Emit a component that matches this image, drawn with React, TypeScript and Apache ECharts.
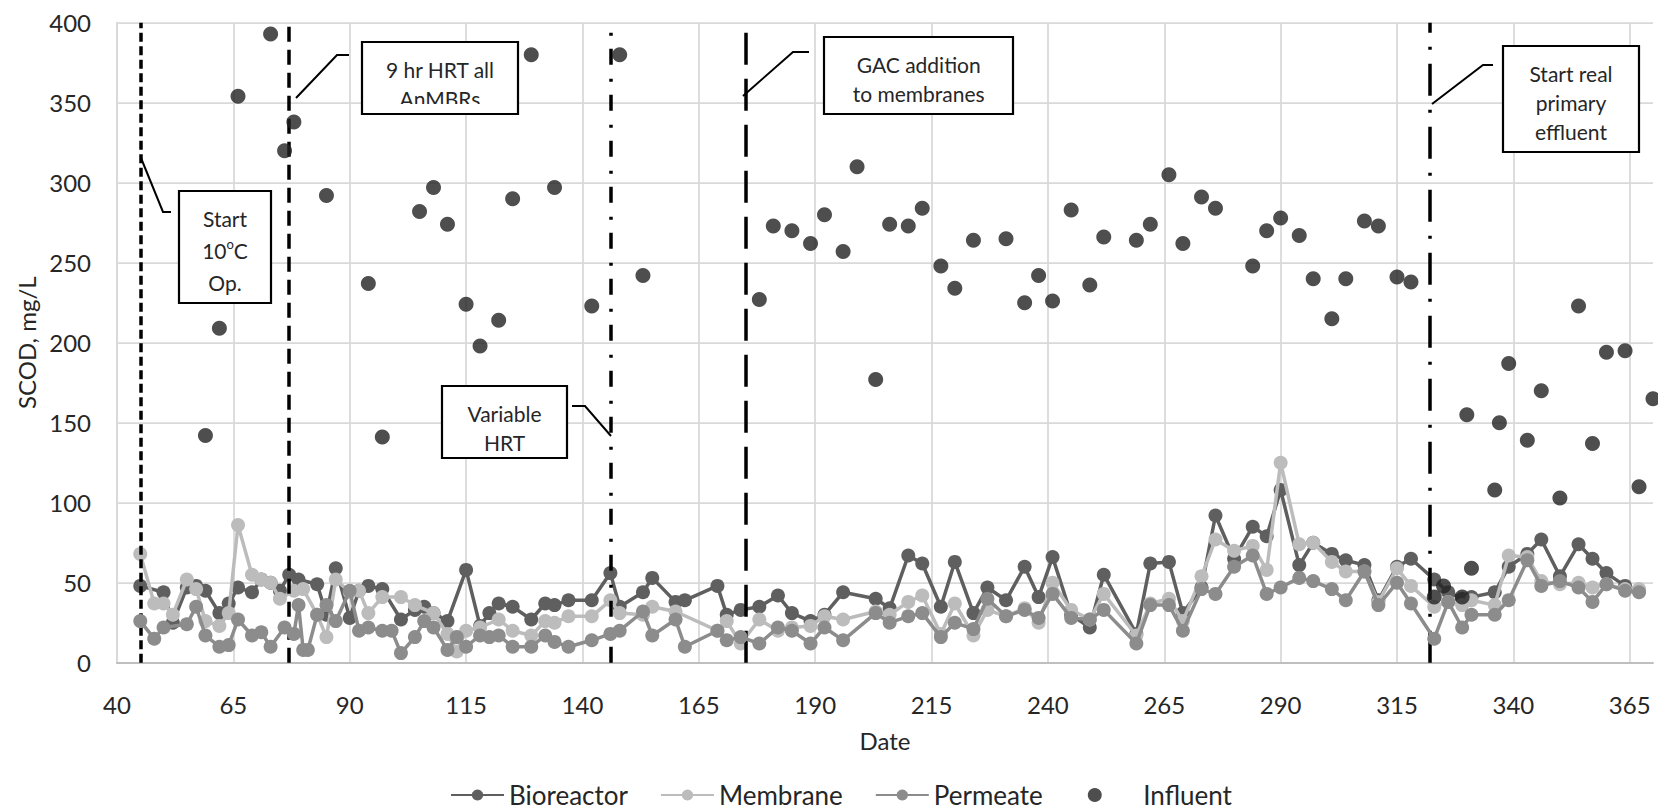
import React, { useEffect, useRef } from "react";
import * as echarts from "echarts";

// ---------- data ----------
const xTickValues = [40, 65, 90, 115, 140, 165, 190, 215, 240, 265, 290, 315, 340, 365];

const bioreactorDays = [45, 50, 52, 55, 57, 59, 62, 64, 66, 69, 71, 73, 75, 77, 79, 83, 85, 87, 90, 92, 94, 97, 101, 104, 106, 108, 111, 115, 118, 120, 122, 125, 129, 132, 134, 137, 142, 146, 148, 153, 155, 160, 162, 169, 171, 174, 178, 182, 185, 189, 192, 196, 203, 206, 210, 213, 217, 220, 224, 227, 231, 235, 238, 241, 245, 249, 252, 259, 262, 266, 269, 273, 276, 280, 284, 287, 290, 294, 297, 301, 304, 308, 311, 315, 318, 323, 326, 329, 331, 336, 339, 343, 346, 350, 354, 357, 360, 364, 367];
const bioreactorValues = [48, 44, 25, 47, 48, 45, 31, 37, 47, 44, 52, 50, 45, 55, 52, 49, 30, 59, 28, 45, 48, 46, 27, 33, 35, 31, 26, 58, 23, 31, 37, 35, 27, 37, 36, 39, 39, 56, 35, 44, 53, 38, 39, 48, 30, 33, 35, 42, 31, 26, 30, 44, 40, 34, 67, 62, 35, 63, 31, 47, 39, 60, 41, 66, 30, 22, 55, 18, 62, 63, 31, 47, 92, 65, 85, 79, 108, 61, 75, 68, 64, 61, 39, 60, 65, 52, 44, 40, 41, 44, 60, 68, 77, 54, 74, 65, 56, 48, 45];

const membraneDays = [45, 48, 50, 52, 55, 57, 59, 62, 64, 66, 69, 71, 73, 75, 78, 80, 83, 85, 87, 90, 92, 94, 97, 101, 104, 108, 111, 113, 115, 118, 122, 125, 129, 132, 134, 137, 142, 146, 148, 153, 155, 160, 169, 171, 174, 178, 182, 185, 189, 192, 196, 203, 206, 210, 213, 217, 220, 224, 227, 231, 235, 238, 241, 245, 249, 252, 259, 262, 266, 269, 273, 276, 280, 284, 287, 290, 294, 297, 301, 304, 308, 311, 315, 318, 323, 326, 329, 331, 336, 339, 343, 346, 350, 354, 357, 360, 364, 367];
const membraneValues = [68, 37, 37, 30, 52, 46, 26, 23, 31, 86, 55, 52, 50, 40, 45, 46, 30, 16, 52, 44, 45, 31, 41, 41, 36, 31, 18, 7, 20, 22, 27, 20, 17, 26, 25, 29, 29, 39, 31, 30, 35, 32, 20, 26, 12, 27, 20, 22, 23, 29, 27, 32, 30, 38, 42, 18, 37, 17, 33, 29, 34, 25, 50, 33, 27, 43, 17, 37, 40, 26, 54, 77, 70, 73, 58, 125, 74, 75, 63, 57, 57, 38, 59, 48, 35, 38, 36, 39, 36, 67, 66, 51, 49, 50, 47, 49, 46, 46];

const permeateDays = [45, 48, 50, 55, 57, 59, 62, 64, 66, 69, 71, 73, 76, 78, 79, 80, 81, 83, 85, 87, 90, 92, 94, 97, 99, 101, 104, 106, 108, 111, 113, 115, 118, 120, 122, 125, 129, 132, 134, 137, 142, 146, 148, 153, 155, 160, 162, 169, 171, 174, 178, 182, 185, 189, 192, 196, 203, 206, 210, 213, 217, 220, 224, 227, 231, 235, 238, 241, 245, 249, 252, 259, 262, 266, 269, 273, 276, 280, 284, 287, 290, 294, 297, 301, 304, 308, 311, 315, 318, 323, 326, 329, 331, 336, 339, 343, 346, 350, 354, 357, 360, 364, 367];
const permeateValues = [26, 15, 22, 24, 35, 17, 10, 11, 27, 17, 19, 10, 22, 18, 36, 8, 8, 30, 36, 26, 45, 20, 22, 20, 20, 6, 16, 26, 22, 8, 16, 10, 17, 16, 17, 10, 10, 17, 13, 10, 14, 18, 20, 32, 17, 27, 10, 20, 14, 16, 12, 22, 20, 12, 22, 14, 31, 25, 29, 31, 16, 25, 21, 40, 29, 33, 28, 43, 28, 27, 33, 12, 36, 36, 20, 46, 43, 60, 67, 43, 47, 53, 51, 46, 39, 57, 36, 50, 37, 15, 38, 22, 30, 30, 39, 64, 48, 51, 47, 38, 49, 45, 44];

const influentDays = [59, 62, 66, 73, 76, 78, 85, 94, 97, 105, 108, 111, 115, 118, 122, 125, 129, 134, 142, 148, 153, 178, 181, 185, 189, 192, 196, 199, 203, 206, 210, 213, 217, 220, 224, 231, 235, 238, 241, 245, 249, 252, 259, 262, 266, 269, 273, 276, 284, 287, 290, 294, 297, 301, 304, 308, 311, 315, 318, 323, 325, 329, 331, 330, 336, 337, 339, 343, 346, 350, 354, 357, 360, 364, 367, 370];
const influentValues = [142, 209, 354, 393, 320, 338, 292, 237, 141, 282, 297, 274, 224, 198, 214, 290, 380, 297, 223, 380, 242, 227, 273, 270, 262, 280, 257, 310, 177, 274, 273, 284, 248, 234, 264, 265, 225, 242, 226, 283, 236, 266, 264, 274, 305, 262, 291, 284, 248, 270, 278, 267, 240, 215, 240, 276, 273, 241, 238, 41, 48, 41, 59, 155, 108, 150, 187, 139, 170, 103, 223, 137, 194, 195, 110, 165];

const eventDays = [45, 77, 146, 175, 322];

// ---------- styles ----------
const FONT = "Lato";
const TEXT_COLOR = "#262626";
const eventDash = [
  [9, 4.5],
  [15, 8],
  [16, 13, 3, 14],
  [32, 14],
  [32, 14, 3, 14],
];

type Callout = {
  lines: string[];
  lineYs: number[];
  cx: number;
  box: [number, number, number, number];
  leader: number[][];
  clip?: [number, number, number, number];
};

const callouts: Callout[] = [
  {
    lines: ["Start", "10{sup|o}C", "Op."],
    lineYs: [218, 250, 282],
    cx: 225,
    box: [179, 191, 92, 112],
    leader: [[141, 158], [163, 212], [171, 212]],
  },
  {
    lines: ["9 hr HRT all", "AnMBRs"],
    lineYs: [69, 98],
    cx: 440,
    box: [362, 42, 156, 72],
    leader: [[296, 98], [337, 55], [349, 55]],
    clip: [364, 104, 152, 8.5],
  },
  {
    lines: ["Variable", "HRT"],
    lineYs: [413, 442],
    cx: 504.5,
    box: [442, 386, 125, 72],
    leader: [[572, 406], [585, 406], [611, 436]],
  },
  {
    lines: ["GAC addition", "to membranes"],
    lineYs: [64, 93],
    cx: 918.7,
    box: [824, 37, 189, 77],
    leader: [[743, 96], [793, 52], [809, 52]],
  },
  {
    lines: ["Start real", "primary", "effluent"],
    lineYs: [73, 102, 131],
    cx: 1571,
    box: [1503, 46, 136, 106],
    leader: [[1432, 104], [1483, 65], [1493, 65]],
  },
];

function pairs(days: number[], values: number[]) {
  return days.map((d, i) => [d, values[i]]);
}

function buildGraphics() {
  const els: any[] = [];
  callouts.forEach((c) => {
    els.push({
      type: "polyline",
      shape: { points: c.leader },
      style: { stroke: "#000", lineWidth: 2, fill: null },
      z: 100,
    });
    els.push({
      type: "rect",
      shape: { x: c.box[0], y: c.box[1], width: c.box[2], height: c.box[3] },
      style: { fill: "#fff", stroke: "#000", lineWidth: 2.2 },
      z: 100,
    });
    c.lines.forEach((t, i) => {
      els.push({
        type: "text",
        x: c.cx,
        y: c.lineYs[i],
        style: {
          text: t,
          fill: TEXT_COLOR,
          font: `21px ${FONT}`,
          fontFamily: FONT,
          fontSize: 21,
          align: "center",
          verticalAlign: "middle",
          rich: {
            sup: { fontSize: 13, fontFamily: FONT, fill: TEXT_COLOR, padding: [0, 0, 12, 0] },
          },
        },
        z: 101,
      });
    });
    if (c.clip) {
      els.push({
        type: "rect",
        shape: { x: c.clip[0], y: c.clip[1], width: c.clip[2], height: c.clip[3] },
        style: { fill: "#fff" },
        z: 102,
      });
    }
  });
  return els;
}

export default function App() {
  const ref = useRef<HTMLDivElement>(null);
  useEffect(() => {
    const chart = echarts.init(ref.current!, null, { renderer: "svg" });
    const gridLine = { color: "#d9d9d9", width: 1.75 };
    const legendText = { fontFamily: FONT, fontSize: 26, lineHeight: 26, color: TEXT_COLOR };
    const option: any = {
      animation: false,
      backgroundColor: "#fff",
      textStyle: { fontFamily: FONT },
      grid: { left: 117, right: 5, top: 22.7, bottom: 147.3, containLabel: false },
      xAxis: {
        type: "value",
        min: 40,
        max: 370,
        name: "Date",
        nameLocation: "middle",
        nameGap: 66,
        nameTextStyle: { fontFamily: FONT, fontSize: 24, color: TEXT_COLOR },
        axisLine: { show: true, lineStyle: { color: "#bfbfbf", width: 2 } },
        axisTick: { show: false, customValues: xTickValues },
        axisLabel: {
          customValues: xTickValues,
          fontFamily: FONT,
          fontSize: 24,
          color: TEXT_COLOR,
          margin: 30,
        },
        splitLine: { show: true, lineStyle: gridLine },
      },
      yAxis: {
        type: "value",
        min: 0,
        max: 400,
        interval: 50,
        name: "SCOD, mg/L",
        nameLocation: "middle",
        nameGap: 77,
        nameRotate: 90,
        nameTextStyle: { fontFamily: FONT, fontSize: 24, color: TEXT_COLOR },
        axisLine: { show: true, lineStyle: gridLine },
        axisTick: { show: false },
        axisLabel: { fontFamily: FONT, fontSize: 24, color: TEXT_COLOR, margin: 26 },
        splitLine: { show: true, lineStyle: gridLine },
      },
      legend: {
        data: [
          { name: "Bioreactor" },
          { name: "Membrane" },
          { name: "Permeate", textStyle: { ...legendText, padding: [0, 13, 0, 0] } },
          { name: "Influent", textStyle: { ...legendText, padding: [0, 0, 0, 17] } },
        ],
        left: 445,
        top: 777,
        itemWidth: 53,
        itemHeight: 14,
        itemGap: 32,
        textStyle: legendText,
      },
      series: [
        {
          name: "Bioreactor",
          type: "line",
          data: pairs(bioreactorDays, bioreactorValues),
          symbol: "circle",
          symbolSize: 14,
          lineStyle: { color: "#5f5f5f", width: 3.5 },
          itemStyle: { color: "#5f5f5f" },
          z: 3,
        },
        {
          name: "Membrane",
          type: "line",
          data: pairs(membraneDays, membraneValues),
          symbol: "circle",
          symbolSize: 14,
          lineStyle: { color: "#bcbcbc", width: 3.5 },
          itemStyle: { color: "#bcbcbc" },
          z: 4,
        },
        {
          name: "Permeate",
          type: "line",
          data: pairs(permeateDays, permeateValues),
          symbol: "circle",
          symbolSize: 14,
          lineStyle: { color: "#8c8c8c", width: 3.5 },
          itemStyle: { color: "#8c8c8c" },
          z: 5,
        },
        {
          name: "Influent",
          type: "scatter",
          data: pairs(influentDays, influentValues),
          symbol: "circle",
          symbolSize: 15,
          itemStyle: { color: "#222222" },
          z: 6,
          markLine: {
            silent: true,
            symbol: ["none", "none"],
            label: { show: false },
            data: eventDays.map((d, i) => ({
              xAxis: d,
              lineStyle: { color: "#000", width: 3.5, type: eventDash[i] },
            })),
          },
        },
      ],
      graphic: buildGraphics(),
    };
    chart.setOption(option);
    return () => chart.dispose();
  }, []);
  return (
    <div
      ref={ref}
      style={{ position: "absolute", left: 0, top: 0, width: 1658, height: 810 }}
    />
  );
}
